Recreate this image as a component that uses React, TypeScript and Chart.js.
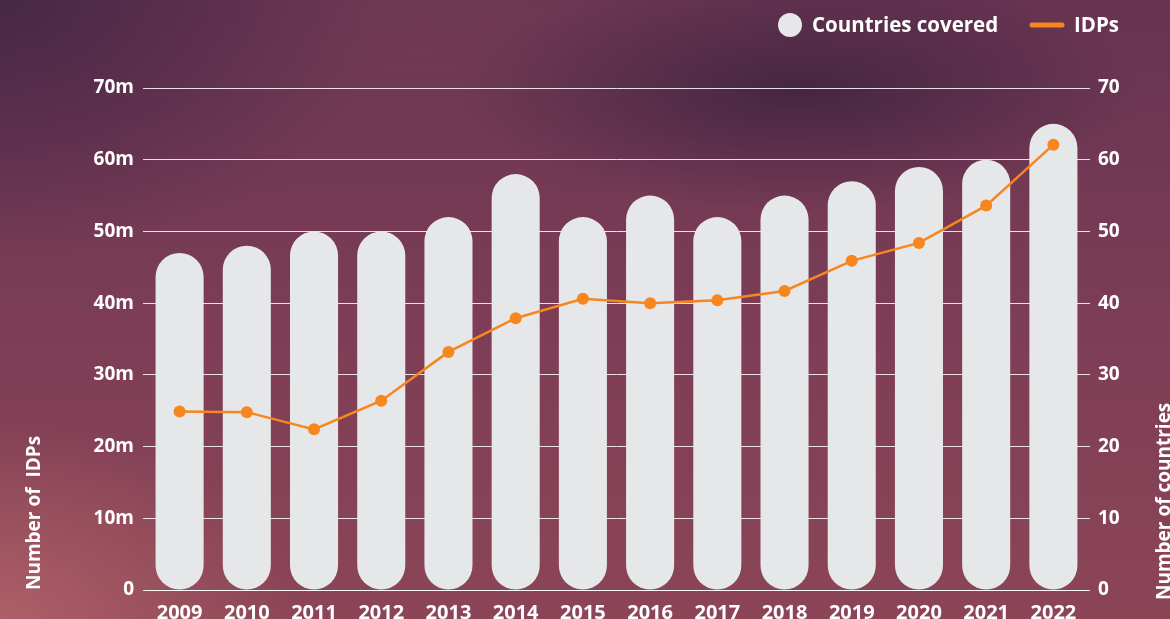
import React, { useEffect, useRef } from "react";
import { Chart, registerables } from "chart.js";

Chart.register(...registerables);

const years = ["2009", "2010", "2011", "2012", "2013", "2014", "2015", "2016", "2017", "2018", "2019", "2020", "2021", "2022"];
const countriesCovered = [47, 48, 50, 50, 52, 58, 52, 55, 52, 55, 57, 59, 60, 65];
const idpsMillions = [24.9, 24.8, 22.4, 26.4, 33.2, 37.9, 40.6, 40.0, 40.4, 41.7, 45.9, 48.4, 53.6, 62.1];
const leftTickSuffix = "m";
const legendLabels = ["Countries covered", "IDPs"];
const leftTitle = "Number of  IDPs";
const rightTitle = "Number of countries";

const FONT = "'Open Sans', 'DejaVu Sans', sans-serif";
const BAR_COLOR = "#e6e7e8";
const LINE_COLOR = "#f7861f";
const GRID_COLOR = "rgba(255,255,255,0.85)";

const textPlugin = {
  id: "customText",
  afterDraw(chart: any) {
    const ctx = chart.ctx;
    ctx.save();
    // legend
    ctx.font = `700 20.5px ${FONT}`;
    ctx.textBaseline = "middle";
    ctx.textAlign = "left";
    ctx.beginPath();
    ctx.fillStyle = BAR_COLOR;
    ctx.arc(790, 25, 12, 0, Math.PI * 2);
    ctx.fill();
    ctx.fillStyle = "#ffffff";
    ctx.fillText(legendLabels[0], 812, 26);
    ctx.strokeStyle = LINE_COLOR;
    ctx.lineWidth = 5;
    ctx.lineCap = "round";
    ctx.beginPath();
    ctx.moveTo(1032, 25);
    ctx.lineTo(1062, 25);
    ctx.stroke();
    ctx.fillText(legendLabels[1], 1074, 26);

    // axis titles
    ctx.font = `700 19px ${FONT}`;
    ctx.textBaseline = "middle";
    ctx.save();
    ctx.translate(35, chart.chartArea.bottom);
    ctx.rotate(-Math.PI / 2);
    ctx.textAlign = "left";
    ctx.fillText(leftTitle, 0, 0);
    ctx.restore();
    ctx.save();
    ctx.translate(1165, chart.chartArea.bottom + 10);
    ctx.rotate(-Math.PI / 2);
    ctx.textAlign = "left";
    ctx.fillText(rightTitle, 0, 0);
    ctx.restore();
    ctx.restore();
  },
};

export default function App() {
  const ref = useRef<HTMLCanvasElement | null>(null);
  useEffect(() => {
    if (!ref.current) return;
    const chart = new Chart(ref.current, {
      data: {
        labels: years,
        datasets: [
          {
            type: "line",
            label: legendLabels[1],
            data: idpsMillions,
            yAxisID: "y",
            borderColor: LINE_COLOR,
            backgroundColor: LINE_COLOR,
            borderWidth: 2.5,
            pointRadius: 6,
            pointBackgroundColor: LINE_COLOR,
            pointBorderColor: LINE_COLOR,
            pointBorderWidth: 0,
            tension: 0,
            order: 0,
          } as any,
          {
            type: "bar",
            label: legendLabels[0],
            data: countriesCovered,
            yAxisID: "y1",
            backgroundColor: BAR_COLOR,
            borderRadius: 24,
            borderSkipped: false,
            barPercentage: 0.715,
            categoryPercentage: 1,
            order: 1,
          } as any,
        ],
      },
      options: {
        responsive: false,
        animation: false,
        layout: { padding: { top: 88, left: 0, right: 0, bottom: 0 } },
        plugins: { legend: { display: false }, tooltip: { enabled: false } },
        scales: {
          x: {
            grid: { display: false },
            border: { display: true, color: GRID_COLOR, width: 1 },
            ticks: {
              color: "#ffffff",
              font: { family: FONT, size: 20, weight: "700" as any },
              padding: 3,
              maxRotation: 0,
              autoSkip: false,
            },
            afterFit(scale: any) {
              scale.height = 29;
            },
          },
          y: {
            position: "left",
            min: 0,
            max: 70,
            ticks: {
              stepSize: 10,
              color: "#ffffff",
              font: { family: FONT, size: 19, weight: "700" as any },
              padding: 9,
              callback: (v: any) => (Number(v) === 0 ? "0" : `${v}${leftTickSuffix}`),
            },
            grid: { color: GRID_COLOR, lineWidth: 1, tickLength: 3, drawTicks: true },
            border: { display: false },
            afterFit(scale: any) {
              scale.width = 146;
            },
          },
          y1: {
            position: "right",
            min: 0,
            max: 70,
            ticks: {
              stepSize: 10,
              color: "#ffffff",
              font: { family: FONT, size: 19, weight: "700" as any },
              padding: 8,
            },
            grid: { color: GRID_COLOR, lineWidth: 1, tickLength: 3, drawOnChartArea: false, drawTicks: true },
            border: { display: false },
            afterFit(scale: any) {
              scale.width = 83;
            },
          },
        },
      } as any,
      plugins: [textPlugin],
    });
    return () => chart.destroy();
  }, []);

  const bg = [
    "radial-gradient(ellipse 340px 120px at 800px 90px, rgba(58,34,62,0.8), rgba(58,34,62,0) 100%)",
    "radial-gradient(ellipse 380px 260px at 0px 0px, rgba(68,38,70,0.9), rgba(68,38,70,0) 100%)",
    "radial-gradient(ellipse 300px 200px at 0px 619px, rgba(178,100,105,0.85), rgba(178,100,105,0) 100%)",
    "radial-gradient(ellipse 500px 220px at 420px 20px, rgba(120,62,84,0.5), rgba(120,62,84,0) 100%)",
    "linear-gradient(180deg, #673351 0%, #7a3c55 45%, #8c4557 100%)",
  ].join(", ");

  return (
    <div style={{ position: "fixed", left: 0, top: 0, width: 1170, height: 619, background: bg, overflow: "hidden" }}>
      <canvas ref={ref} width={1170} height={619} style={{ display: "block" }} />
    </div>
  );
}
